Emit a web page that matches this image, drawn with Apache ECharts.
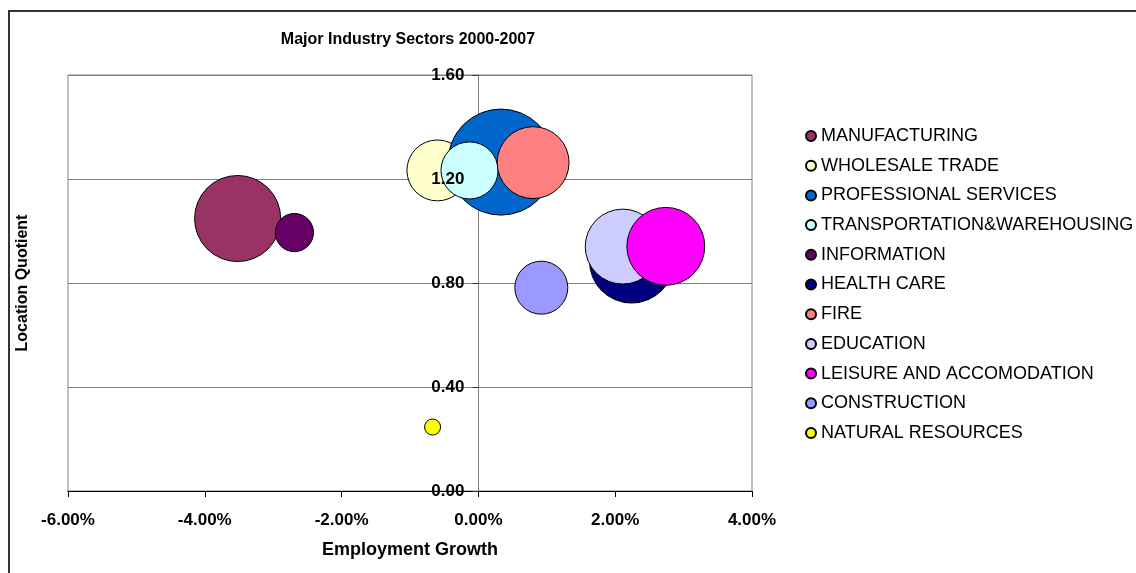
<!DOCTYPE html>
<html>
<head>
<meta charset="utf-8">
<script src="https://cdn.jsdelivr.net/npm/echarts@6/dist/echarts.min.js"></script>
<style>
html,body{margin:0;padding:0;background:#fff;}
#chart{width:1136px;height:573px;}
</style>
</head>
<body>
<div id="chart"></div>
<script>
// ---- data ----
const sectors = [
  'MANUFACTURING', 'WHOLESALE TRADE', 'PROFESSIONAL SERVICES',
  'TRANSPORTATION&WAREHOUSING', 'INFORMATION', 'HEALTH CARE', 'FIRE',
  'EDUCATION', 'LEISURE AND ACCOMODATION', 'CONSTRUCTION', 'NATURAL RESOURCES'
];
// employment growth 2000-2007, in percent
const employmentGrowth = [-3.52, -0.60, 0.33, -0.13, -2.69, 2.24, 0.80, 2.11, 2.74, 0.92, -0.67];
// location quotient
const locationQuotient = [1.048, 1.233, 1.265, 1.233, 0.994, 0.885, 1.263, 0.940, 0.941, 0.782, 0.246];
// relative bubble size (employment, largest = 100)
const bubbleSize = [66, 33, 100, 29, 13, 63, 46, 50, 54, 25, 2.3];
const sectorColors = [
  '#993366', '#FFFFCC', '#0066CC', '#CCFFFF', '#660066', '#000080',
  '#FF8080', '#CCCCFF', '#FF00FF', '#9999FF', '#FFFF00'
];
const xTickValues = [-6, -4, -2, 0, 2, 4];
const yTickValues = [0, 0.4, 0.8, 1.2, 1.6];

const FONT = 'Arial, "Liberation Sans", sans-serif';

const GRID_LEFT = 68, GRID_WIDTH = 684;

const chart = echarts.init(document.getElementById('chart'), null, {renderer: 'canvas'});

const series = sectors.map((name, i) => ({
  type: 'scatter',
  name: name,
  data: [[employmentGrowth[i], locationQuotient[i], bubbleSize[i]]],
  symbol: 'circle',
  symbolSize: v => Math.sqrt(v[2]) * 10.6,
  itemStyle: { color: sectorColors[i], borderColor: '#000', borderWidth: 1, opacity: 1 },
  emphasis: { disabled: true },
  animation: false
}));

// the label-only y axis sits on the x = 0 line (drawn above the bubbles, as in the original)
const xMin = xTickValues[0], xMax = xTickValues[xTickValues.length - 1];
const zeroOffset = -GRID_WIDTH * (0 - xMin) / (xMax - xMin);

chart.setOption({
  backgroundColor: '#fff',
  animation: false,
  title: {
    text: 'Major Industry Sectors 2000-2007',
    left: 403, top: 27, textAlign: 'center',
    textStyle: { fontFamily: FONT, fontWeight: 'bold', fontSize: 16, color: '#000' }
  },
  grid: {
    left: GRID_LEFT, top: 75, width: GRID_WIDTH, height: 416,
    containLabel: false, outerBoundsMode: 'none',
    show: true, borderColor: '#808080', borderWidth: 1, backgroundColor: 'transparent'
  },
  legend: {
    orient: 'vertical', left: 800, top: 121,
    data: sectors, icon: 'circle', itemWidth: 10, itemHeight: 10, itemGap: 9.7,
    selectedMode: false,
    textStyle: { fontFamily: FONT, fontSize: 18, color: '#000', lineHeight: 20 }
  },
  xAxis: {
    type: 'value',
    min: xMin, max: xMax, interval: 2,
    name: 'Employment Growth', nameLocation: 'middle', nameGap: 50,
    nameTextStyle: { fontFamily: FONT, fontWeight: 'bold', fontSize: 18, color: '#000' },
    axisLine: { onZero: true, lineStyle: { color: '#000', width: 1 } },
    axisTick: { show: true, length: 6, lineStyle: { color: '#000' } },
    splitLine: { show: false },
    axisLabel: {
      color: '#000', fontFamily: FONT, fontWeight: 'bold', fontSize: 17, margin: 21,
      formatter: v => v.toFixed(2) + '%'
    }
  },
  yAxis: [
    {
      type: 'value',
      min: yTickValues[0], max: yTickValues[yTickValues.length - 1], interval: 0.4,
      axisLine: { show: true, onZero: true, onZeroAxisIndex: 0, lineStyle: { color: '#808080', width: 1 } },
      axisTick: { show: true, length: 6, lineStyle: { color: '#333' } },
      splitLine: { show: true, lineStyle: { color: '#808080', width: 1 } },
      axisLabel: { show: false }
    },
    {
      type: 'value', position: 'left', offset: zeroOffset, z: 10,
      min: yTickValues[0], max: yTickValues[yTickValues.length - 1], interval: 0.4,
      axisLine: { show: false, onZero: false },
      axisTick: { show: false },
      splitLine: { show: false },
      axisLabel: {
        color: '#000', fontFamily: FONT, fontWeight: 'bold', fontSize: 17,
        margin: 14, formatter: v => v.toFixed(2)
      }
    }
  ],
  graphic: [
    {
      type: 'rect', z: -10, silent: true,
      shape: { x: 9, y: 11, width: 1400, height: 900 },
      style: { fill: null, stroke: '#333', lineWidth: 2 }
    },
    {
      type: 'text', silent: true,
      x: 23, y: 283, rotation: Math.PI / 2,
      style: {
        text: 'Location Quotient', fill: '#000',
        font: 'bold 16px ' + FONT, align: 'center', verticalAlign: 'middle'
      }
    }
  ],
  series: series
});
</script>
</body>
</html>
